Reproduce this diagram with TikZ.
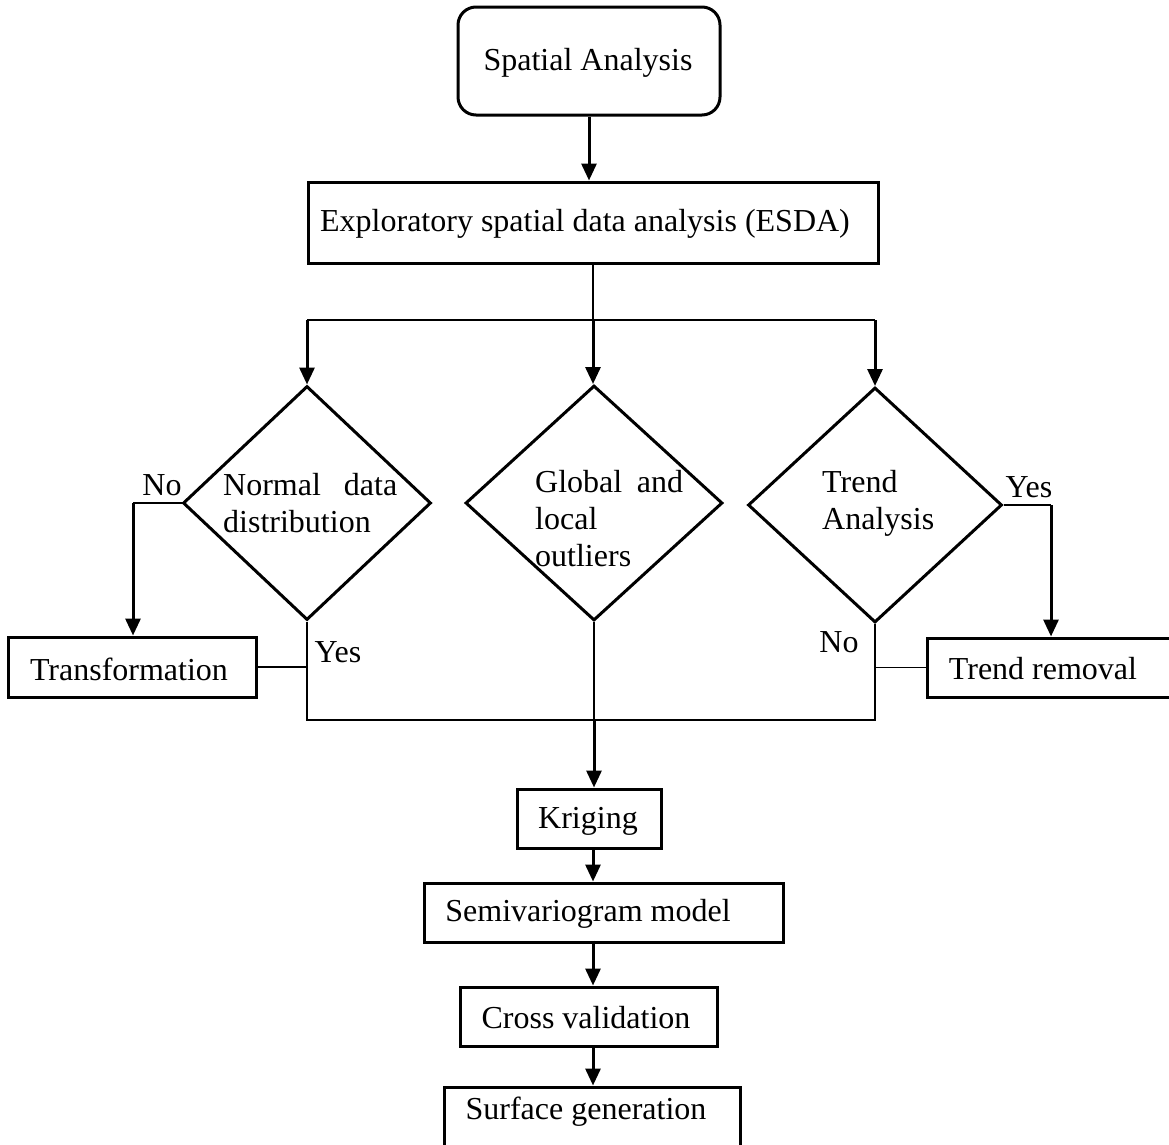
\documentclass[tikz,border=0pt]{standalone}
\usepackage{fontspec}
\setmainfont{Liberation Serif}
\usetikzlibrary{arrows.meta,shapes.geometric}
\begin{document}
\begin{tikzpicture}[x=1pt,y=-1pt,
  every node/.style={font=\fontsize{32}{37}\selectfont},
  box/.style={draw,line width=3pt,inner sep=0pt},
  dia/.style={draw,diamond,line width=3pt,inner sep=0pt},
  thinline/.style={line width=1.3pt},
  arr/.style={line width=3pt,-{Triangle[length=17pt,width=15pt]}},
  txt/.style={inner sep=0pt}]
\useasboundingbox (0,0) rectangle (1169,1144);
\clip (0,0) rectangle (1169,1144);
% boxes
\node[box,rounded corners=18pt,minimum width=262pt,minimum height=108pt] (sa) at (589,61) {};
\node[txt] (sat) at (588,63) {Spatial Analysis};
\node[box,minimum width=570pt,minimum height=81pt] (esda) at (593,222.5) {};
\node[txt] (esdat) at (585,224) {Exploratory spatial data analysis (ESDA)};
% diamonds
\node[dia,minimum width=248pt,minimum height=234pt] (dl) at (307,503) {};
\node[dia,minimum width=257pt,minimum height=235pt] (dm) at (594,503) {};
\node[dia,minimum width=254pt,minimum height=235pt] (dr) at (875,505) {};
\node[txt,anchor=west,align=left] (dlt) at (223,503) {\makebox[174pt][s]{Normal data}\\distribution};
\node[txt,anchor=west,align=left] (dmt) at (535,519) {\makebox[148pt][s]{Global and}\\local\\outliers};
\node[txt,anchor=west,align=left] (drt) at (822,503) {Trend\\Analysis};
% labels
\node[txt] (nol) at (162,485) {No};
\node[txt] (yesl) at (338,652) {Yes};
\node[txt] (yesr) at (1029,487) {Yes};
\node[txt] (nor) at (839,642) {No};
% side boxes
\node[box,minimum width=248pt,minimum height=60pt] (trans) at (132,667) {};
\node[txt] (transt) at (129,669) {Transformation};
\node[box,minimum width=252pt,minimum height=59pt] (trem) at (1053,667.5) {};
\node[txt] (tremt) at (1043,669) {Trend removal};
% lower chain
\node[box,minimum width=144pt,minimum height=59pt] (krig) at (589,818.5) {};
\node[txt] (krigt) at (588,821) {Kriging};
\node[box,minimum width=359pt,minimum height=59pt] (semi) at (603.5,912.5) {};
\node[txt] (semit) at (588,914) {Semivariogram model};
\node[box,minimum width=257pt,minimum height=59pt] (cross) at (588.5,1016.5) {};
\node[txt] (crosst) at (586,1018) {Cross validation};
\node[box,minimum width=296pt,minimum height=64pt] (surf) at (592,1119) {};
\node[txt] (surft) at (586,1112) {Surface generation};
% connectors
\coordinate (j1) at (593,320);
\coordinate (j2) at (594,720);
\coordinate (nl) at (133,503);
\coordinate (yr) at (1051,505);
\draw[arr] (sa.south) -- (sa.south |- esda.north);
\draw[thinline] (esda.south) -- (j1);
\draw[thinline] (dl.north |- j1) -- (dr.north |- j1);
\draw[arr] (dl.north |- j1) -- (dl.north);
\draw[arr] (j1) -- (j1 |- dm.north);
\draw[arr] (dr.north |- j1) -- (dr.north);
\draw[thinline] (dl.west) -- (nl);
\draw[arr] (nl) -- (nl |- trans.north);
\draw[thinline] (dr.east) -- (yr);
\draw[arr] (yr) -- (yr |- trem.north);
\draw[thinline] (dl.south) -- (dl.south |- j2) -- (dr.south |- j2) -- (dr.south);
\draw[thinline] (dm.south) -- (j2);
\draw[thinline] (trans.east) -- (trans.east -| dl.south);
\draw[thinline] (trem.west) -- (trem.west -| dr.south);
\draw[arr] (j2) -- (j2 |- krig.north);
\draw[arr] (j1 |- krig.south) -- (j1 |- semi.north);
\draw[arr] ([yshift=3pt]j1 |- semi.south) -- (j1 |- cross.north);
\draw[arr] (j1 |- cross.south) -- (j1 |- surf.north);
\end{tikzpicture}
\end{document}
